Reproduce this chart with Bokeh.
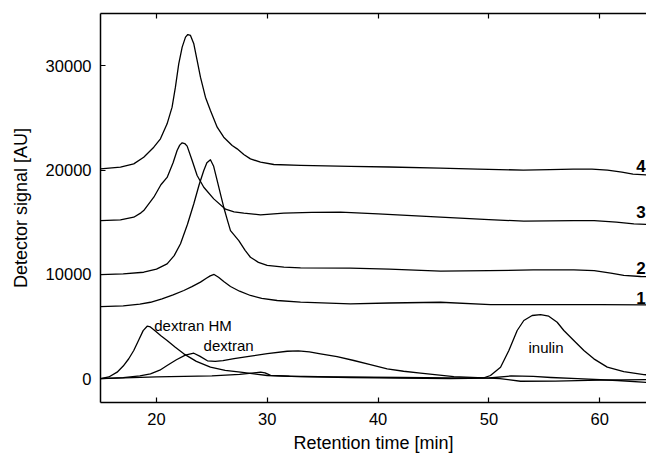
from bokeh.plotting import figure
from bokeh.models import Range1d, LinearAxis, FixedTicker, ColumnDataSource
from bokeh.core.properties import value
from bokeh.embed import file_html
from bokeh.resources import INLINE

# ---- data ----
x_ticks = [20, 30, 40, 50, 60]
y_ticks = [0, 10000, 20000, 30000]

# sample 4
x4 = [14.95, 16.75, 17.95, 18.85, 19.76, 20.36, 20.96, 21.41, 21.71, 22.01, 22.32, 22.62, 22.83, 23.07, 23.37, 23.67, 23.97, 24.42, 24.87, 25.48, 26.07, 26.83, 27.28, 27.88, 28.48, 29.39, 30.59, 33.0, 37.5, 41.0, 45.6, 49.0, 53.1, 55.5, 57.6, 59.3, 60.7, 62.0, 63.0, 64.22]
y4 = [20120, 20280, 20600, 21240, 22200, 23000, 24440, 26040, 27960, 30200, 31800, 32760, 33010, 32920, 32120, 30520, 28920, 27000, 25720, 24120, 23160, 22360, 22040, 21500, 21080, 20760, 20540, 20450, 20350, 20300, 20190, 20100, 20000, 20050, 20100, 20100, 20000, 19800, 19620, 19550]

# sample 3
x3 = [14.95, 16.75, 17.95, 18.6, 18.85, 19.76, 20.4, 20.96, 21.5, 21.87, 22.1, 22.32, 22.55, 22.77, 23.22, 23.67, 24.27, 25.17, 26.23, 27.0, 27.88, 29.39, 31.49, 34.0, 36.6, 40.0, 45.63, 50.0, 53.15, 55.5, 57.66, 59.5, 61.5, 63.08, 64.22]
y3 = [15160, 15230, 15480, 15900, 16120, 17400, 18600, 19300, 20700, 21900, 22400, 22620, 22550, 22300, 20920, 19480, 18360, 17240, 16250, 16000, 15870, 15710, 15870, 15950, 15960, 15800, 15480, 15250, 15100, 15130, 15160, 15150, 15000, 14840, 14800]

# sample 2
x2 = [14.95, 17.0, 18.85, 20.0, 20.96, 21.6, 22.17, 22.8, 23.37, 23.85, 24.27, 24.55, 24.87, 25.15, 25.48, 25.8, 26.07, 26.4, 26.68, 27.43, 28.0, 28.48, 29.2, 29.99, 31.5, 33.0, 37.5, 41.0, 45.63, 50.0, 54.0, 57.66, 59.5, 61.0, 62.17, 63.68, 64.22]
y2 = [9980, 10050, 10200, 10500, 11000, 11800, 12930, 14800, 16770, 18600, 19960, 20700, 20990, 20400, 19000, 17600, 16440, 15200, 14200, 13240, 12300, 11640, 11150, 10850, 10700, 10620, 10600, 10500, 10300, 10350, 10420, 10430, 10350, 10120, 9890, 9790, 9770]

# sample 1
x1 = [14.95, 17.0, 18.5, 19.46, 20.5, 21.5, 22.47, 23.2, 23.97, 24.5, 24.85, 25.2, 25.6, 26.1, 26.68, 27.5, 28.48, 29.5, 30.89, 33.0, 37.5, 41.0, 45.63, 50.14, 55.0, 60.0, 64.22]
y1 = [6910, 6980, 7150, 7320, 7650, 8020, 8450, 8820, 9250, 9620, 9850, 9990, 9720, 9280, 8830, 8380, 7970, 7700, 7490, 7330, 7170, 7250, 7320, 7100, 7090, 7100, 7070]

# dextran HM
x_hm = [14.95, 15.7, 16.45, 17.0, 17.5, 17.95, 18.4, 18.8, 19.16, 19.45, 19.9, 20.4, 20.96, 21.7, 22.47, 23.6, 24.87, 26.2, 27.58, 29.99, 33.0, 37.5, 42.0, 46.5, 50.0, 52.0, 54.0, 55.6, 58.0, 61.6, 64.22]
y_hm = [0, 150, 610, 1200, 1900, 2690, 3700, 4600, 5020, 4950, 4550, 4100, 3650, 3000, 2370, 1650, 1090, 780, 610, 290, 180, 100, 50, 0, 50, 250, 200, 100, 0, -190, -380]

# dextran
x_dx = [14.95, 17.0, 18.5, 19.46, 20.3, 20.96, 21.8, 22.6, 23.37, 23.9, 24.6, 25.3, 26.0, 27.0, 28.5, 30.0, 31.8, 32.8, 33.8, 34.8, 36.3, 37.81, 39.3, 40.82, 42.3, 43.83, 46.83, 49.54, 51.0, 52.85, 56.0, 60.0, 64.22]
y_dx = [0, 80, 250, 450, 800, 1250, 1800, 2250, 2430, 2150, 1700, 1650, 1720, 1900, 2150, 2400, 2620, 2650, 2560, 2370, 2100, 1730, 1330, 930, 700, 510, 190, 60, 0, -260, -250, -150, -100]

# inulin
x_in = [14.95, 20.0, 25.0, 27.5, 28.8, 29.4, 29.8, 30.3, 32.0, 36.0, 42.0, 46.53, 49.54, 50.14, 51.05, 51.8, 52.55, 53.15, 53.9, 54.66, 55.4, 56.16, 56.76, 57.66, 58.57, 59.47, 60.68, 62.17, 63.98, 64.22]
y_in = [0, 150, 250, 400, 550, 620, 550, 300, 220, 150, 100, 60, 60, 290, 1090, 2690, 4610, 5570, 6050, 6140, 5980, 5400, 4610, 3650, 2690, 1890, 1090, 670, 380, 360]

num_labels = ["4", "3", "2", "1"]
num_x = [63.3, 63.3, 63.3, 63.3]
num_y = [20440, 15980, 10650, 7770]

ann_labels = ["dextran HM", "dextran", "inulin"]
ann_x = [19.8, 24.25, 55.15]
ann_y = [5090, 3170, 3020]
ann_align = ["left", "left", "center"]

FONT = "Liberation Sans"

p = figure(width=646, height=463, x_range=Range1d(14.95, 64.22), y_range=Range1d(-2300, 35030),
           output_backend="svg", toolbar_location=None,
           min_border_left=100, min_border_right=0, min_border_top=13, min_border_bottom=61)
p.grid.visible = False
p.outline_line_color = None
p.background_fill_color = "white"
p.border_fill_color = "white"

for xs, ys in [(x4, y4), (x3, y3), (x2, y2), (x1, y1), (x_hm, y_hm), (x_dx, y_dx), (x_in, y_in)]:
    p.line(xs, ys, line_color="black", line_width=1.3, line_join="round")

p.text(x=num_x, y=num_y, text=num_labels, text_font=value(FONT), text_font_size="17px",
       text_font_style="bold", text_align="left", text_baseline="middle", text_color="black")

src = ColumnDataSource(dict(x=ann_x, y=ann_y, t=ann_labels, a=ann_align))
p.text(x="x", y="y", text="t", text_align="a", source=src, text_font=value(FONT),
       text_font_size="15px", text_baseline="middle", text_color="black")

def style_axis(ax):
    ax.axis_line_width = 1.5
    ax.axis_line_color = "black"
    ax.major_tick_in = 5
    ax.major_tick_out = 0
    ax.major_tick_line_width = 1.2
    ax.minor_tick_line_color = None
    ax.major_label_text_font = FONT
    ax.major_label_text_font_size = "16.5px"
    ax.major_label_text_color = "black"
    ax.axis_label_text_font = FONT
    ax.axis_label_text_font_size = "18px"
    ax.axis_label_text_font_style = "normal"
    ax.axis_label_text_color = "black"

xa = p.xaxis[0]
style_axis(xa)
xa.ticker = FixedTicker(ticks=x_ticks)
xa.axis_label = "Retention time [min]"
xa.major_label_standoff = 10
xa.axis_label_standoff = 5

ya = p.yaxis[0]
style_axis(ya)
ya.ticker = FixedTicker(ticks=y_ticks)
ya.axis_label = "Detector signal [AU]"
ya.major_label_standoff = 9
ya.axis_label_standoff = 12

top = LinearAxis(ticker=FixedTicker(ticks=x_ticks))
style_axis(top)
top.major_label_text_font_size = "0px"
top.major_label_text_color = None
top.major_label_standoff = 0
p.add_layout(top, "above")

open("out.html", "w").write(file_html(p, INLINE))
